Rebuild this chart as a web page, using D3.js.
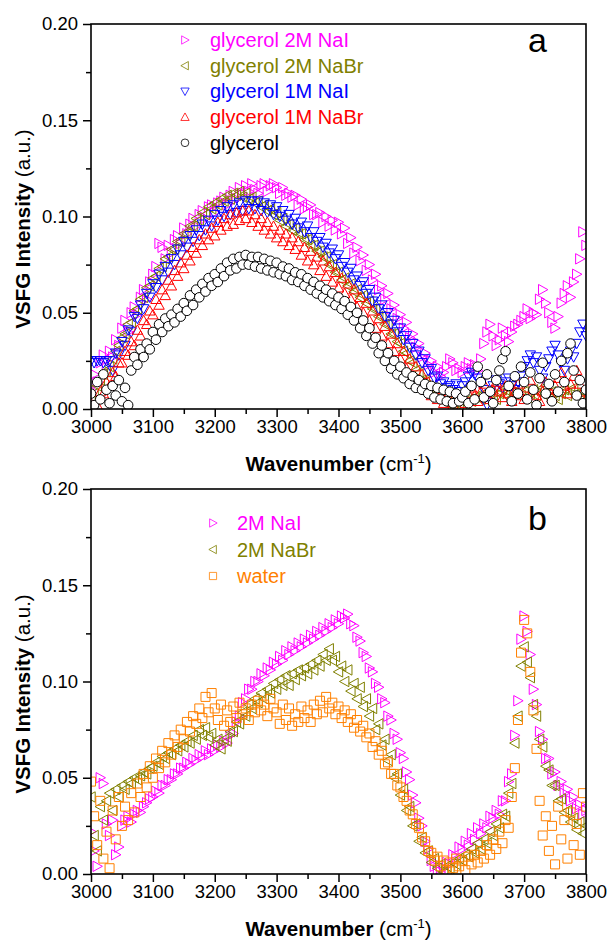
<!DOCTYPE html>
<html>
<head>
<meta charset="utf-8">
<script src="https://cdn.jsdelivr.net/npm/d3@7"></script>
<style>
  body { margin: 0; background: #fff; }
  text { font-family: "Liberation Sans", Arial, sans-serif; }
</style>
</head>
<body>
<div id="chart"></div>
<script>
// wavenumber grid (cm-1), one reading every 5 cm-1
const wavenumbers = d3.range(3000, 3801, 5);

// VSFG intensities, in units of 1e-3 a.u. (rows of 10 = 50 cm-1)
// panel a
const glycerol2MNaI = [
  10, 18, 14, 24, 28, 22, 30, 27, 36, 33,
  42, 46, 40, 50, 53, 49, 58, 62, 57, 66,
  70, 74, 86, 84, 78, 85, 81, 88, 90, 86,
  94, 91, 96, 99, 95, 101, 103, 99, 105, 106,
  102, 107, 108, 110, 106, 111, 113, 109, 115, 112,
  116, 113, 117, 114, 112, 116, 117, 113, 116, 117,
  115, 112, 115, 111, 112, 110, 111, 106, 109, 104,
  105, 106, 101, 101, 102, 97, 100, 95, 98, 93,
  97, 91, 94, 86, 89, 81, 84, 77, 80, 72,
  75, 67, 70, 62, 64, 57, 60, 52, 54, 47,
  49, 42, 45, 37, 39, 32, 34, 27, 29, 23,
  25, 19, 22, 17, 19, 22, 26, 24, 20, 21,
  19, 22, 24, 21, 23, 20, 26, 34, 40, 44,
  38, 33, 36, 42, 38, 35, 40, 43, 44, 46,
  48, 52, 47, 50, 49, 57, 62, 55, 50, 45,
  42, 48, 55, 60, 64, 58, 66, 70, 78, 92,
  85
];
const glycerol2MNaBr = [
  5, 8, 12, 15, 18, 20, 22, 26, 30, 33,
  37, 39, 44, 45, 51, 52, 57, 58, 63, 64,
  68, 69, 73, 74, 78, 79, 83, 83, 87, 87,
  91, 91, 95, 95, 99, 98, 102, 101, 105, 104,
  107, 106, 109, 108, 111, 109, 112, 111, 113, 110,
  112, 109, 110, 107, 108, 105, 106, 103, 104, 101,
  102, 98, 99, 95, 96, 93, 94, 91, 91, 88,
  88, 85, 85, 82, 82, 79, 79, 75, 75, 71,
  71, 67, 68, 64, 65, 61, 62, 58, 59, 55,
  56, 52, 52, 48, 48, 44, 44, 39, 39, 35,
  34, 30, 29, 25, 24, 20, 19, 15, 15, 11,
  11, 7, 8, 5, 6, 3, 4, 2, 3, 1,
  1, 3, 5, 4, 6, 7, 5, 8, 6, 9,
  7, 5, 8, 10, 7, 9, 6, 8, 10, 7,
  9, 6, 8, 10, 7, 9, 11, 8, 6, 9,
  7, 5, 8, 10, 7, 9, 11, 8, 6, 9,
  7
];
const glycerol1MNaI = [
  25, 24, 25, 25, 24, 25, 25, 20, 29, 28,
  35, 33, 41, 40, 48, 47, 54, 52, 60, 58,
  65, 63, 70, 67, 74, 71, 78, 75, 83, 80,
  87, 84, 90, 87, 93, 90, 96, 93, 98, 95,
  101, 98, 103, 100, 105, 101, 106, 102, 107, 103,
  108, 104, 108, 104, 108, 103, 107, 102, 106, 101,
  105, 100, 103, 98, 101, 96, 99, 94, 97, 92,
  95, 89, 92, 87, 89, 84, 86, 81, 83, 78,
  80, 74, 76, 71, 73, 67, 69, 64, 66, 60,
  62, 56, 58, 52, 54, 48, 50, 44, 46, 40,
  42, 36, 38, 32, 34, 28, 30, 24, 26, 20,
  21, 16, 17, 13, 14, 11, 12, 10, 13, 9,
  12, 14, 17, 19, 18, 16, 13, 10, 2, 8,
  12, 15, 13, 11, 14, 16, 12, 10, 14, 17,
  22, 25, 28, 24, 27, 20, 16, 22, 26, 30,
  33, 28, 24, 20, 26, 30, 27, 34, 40, 44,
  38
];
const glycerol1MNaBr = [
  3, 6, 2, 9, 8, 14, 12, 19, 17, 24,
  24, 30, 28, 35, 33, 41, 38, 46, 44, 51,
  49, 57, 54, 62, 59, 67, 64, 72, 69, 76,
  73, 80, 77, 84, 81, 88, 85, 91, 88, 94,
  90, 97, 93, 99, 95, 101, 96, 102, 98, 103,
  99, 103, 97, 101, 95, 99, 93, 97, 91, 95,
  89, 93, 87, 91, 85, 89, 83, 87, 80, 84,
  77, 82, 75, 79, 72, 77, 69, 74, 66, 71,
  63, 68, 60, 65, 57, 62, 53, 58, 50, 55,
  46, 51, 42, 47, 38, 43, 34, 39, 30, 34,
  26, 30, 21, 26, 17, 22, 13, 18, 10, 14,
  7, 10, 5, 8, 3, 6, 5, 2, 4, 6,
  6, 3, 8, 11, 7, 4, 9, 13, 8, 5,
  10, 14, 9, 6, 12, 8, 4, 9, 13, 7,
  5, 11, 15, 10, 7, 4, 9, 14, 10, 6,
  12, 16, 19, 12, 8, 13, 17, 20, 13, 9,
  5
];
const glycerolNeat = [
  8, 2, 14, 5, 18, 10, 3, 12, 7, 15,
  4, 11, 2, 20, 27, 23, 31, 27, 34, 31,
  40, 36, 44, 40, 47, 43, 49, 45, 52, 48,
  55, 51, 59, 54, 62, 58, 65, 61, 68, 64,
  70, 66, 73, 69, 76, 72, 78, 73, 79, 75,
  80, 75, 79, 74, 79, 73, 78, 72, 77, 71,
  76, 70, 74, 69, 73, 67, 71, 66, 70, 64,
  68, 62, 66, 60, 64, 58, 62, 56, 60, 54,
  58, 52, 56, 49, 53, 46, 50, 42, 46, 38,
  42, 34, 37, 29, 33, 25, 29, 21, 25, 18,
  22, 16, 19, 13, 17, 11, 15, 10, 13, 8,
  12, 6, 11, 5, 10, 4, 9, 3, 8, 4,
  6, 9, 3, 12, 5, 22, 14, 6, 18, 9,
  3, 15, 20, 26, 30, 12, 4, 17, 8, 22,
  14, 5, 19, 10, 2, 16, 24, 8, 13, 4,
  18, 9, 25, 14, 29, 34, 20, 7, 15, 3,
  10
];

// panel b
const water2MNaI = [
  22, 12, 4, 50, 47, 26, 20, 28, 10, 14,
  25, 28, 30, 27, 31, 33, 32, 35, 37, 39,
  40, 43, 42, 46, 46, 49, 49, 52, 52, 55,
  55, 58, 57, 60, 59, 62, 61, 64, 62, 65,
  64, 67, 66, 69, 68, 72, 73, 79, 82, 89,
  91, 96, 96, 100, 100, 104, 103, 107, 106, 110,
  109, 113, 111, 116, 114, 118, 116, 120, 118, 122,
  120, 124, 122, 126, 124, 128, 126, 130, 128, 132,
  130, 134, 133, 135, 130, 129, 123, 121, 115, 113,
  107, 105, 99, 97, 91, 89, 82, 80, 73, 70,
  63, 60, 53, 49, 41, 37, 29, 25, 17, 13,
  7, 4, 2, 1, 3, 6, 5, 10, 9, 14,
  13, 17, 15, 21, 18, 24, 21, 26, 24, 30,
  29, 33, 31, 38, 38, 48, 52, 72, 90, 122,
  134, 126, 114, 96, 88, 74, 70, 60, 60, 52,
  53, 46, 48, 42, 44, 38, 40, 34, 36, 31,
  33
];
const water2MNaBr = [
  40, 20, 12, 35, 28, 38, 42, 33, 44, 40,
  46, 44, 48, 47, 50, 49, 51, 53, 52, 55,
  56, 58, 57, 61, 60, 63, 62, 65, 64, 67,
  66, 69, 68, 72, 70, 75, 72, 76, 71, 73,
  67, 70, 65, 70, 69, 74, 74, 79, 78, 84,
  82, 88, 86, 91, 89, 94, 91, 96, 94, 99,
  96, 101, 98, 103, 98, 104, 101, 106, 103, 107,
  104, 109, 106, 111, 108, 114, 111, 117, 111, 113,
  105, 108, 100, 106, 95, 99, 91, 97, 87, 91,
  82, 86, 75, 78, 67, 70, 59, 62, 50, 52,
  41, 44, 33, 35, 25, 26, 17, 19, 11, 12,
  6, 8, 3, 5, 1, 4, 3, 6, 5, 8,
  7, 10, 9, 13, 11, 16, 13, 18, 16, 22,
  20, 26, 24, 31, 30, 42, 47, 68, 82, 108,
  118, 110, 102, 88, 82, 70, 66, 56, 54, 46,
  46, 38, 39, 32, 33, 27, 29, 23, 27, 21,
  25
];
const water = [
  48, 30, 15, 38, 8, 22, 3, 33, 18, 40,
  25, 35, 28, 42, 32, 47, 40, 52, 45, 56,
  50, 60, 55, 64, 58, 68, 62, 72, 66, 75,
  70, 79, 74, 82, 78, 86, 81, 92, 84, 94,
  86, 80, 88, 77, 85, 79, 87, 81, 89, 83,
  86, 80, 88, 84, 90, 85, 88, 82, 91, 86,
  84, 78, 88, 80, 86, 77, 83, 79, 87, 81,
  85, 79, 88, 83, 90, 84, 92, 86, 89, 83,
  87, 81, 85, 79, 83, 76, 80, 74, 77, 71,
  73, 66, 69, 62, 64, 57, 58, 52, 52, 46,
  45, 40, 38, 33, 31, 26, 24, 19, 17, 12,
  11, 7, 9, 4, 7, 2, 6, 3, 8, 4,
  7, 2, 9, 5, 10, 6, 12, 8, 15, 10,
  18, 13, 22, 16, 28, 24, 40, 55, 80, 115,
  132, 125, 105, 85, 65, 38, 20, 30, 12, 25,
  5, 35, 18, 28, 8, 32, 15, 26, 10, 42,
  35
];

const xTicks = d3.range(3000, 3801, 100);
const yTicks = [0, 0.05, 0.10, 0.15, 0.20];

const width = 610, height = 940;
const margin = { left: 91, right: 24 };
const plotH = 385;

const svg = d3.select("#chart").append("svg")
  .attr("width", width)
  .attr("height", height);

const x = d3.scaleLinear().domain([3000, 3800]).range([margin.left, width - margin.right]);

// marker shapes, centred on 0,0
const shapes = {
  right: "M-4.2,-5.2L5.2,0L-4.2,5.2Z",
  left: "M4.2,-5.2L-5.2,0L4.2,5.2Z",
  down: "M-5.2,-4.2L5.2,-4.2L0,5.2Z",
  up: "M-5.2,4.2L5.2,4.2L0,-5.2Z",
  circle: "M4.8,0A4.8,4.8 0 1,1 -4.8,0A4.8,4.8 0 1,1 4.8,0Z",
  square: "M-4.5,-4.5H4.5V4.5H-4.5Z"
};

const panels = [
  {
    top: 24, tag: "a", tagX: 528, tagY: 52,
    legend: { markX: 185, textX: 210, y0: 40, dy: 25.7 },
    series: [
      { name: "glycerol 2M NaI", values: glycerol2MNaI, color: "#ff00ff", shape: "right", fill: "none" },
      { name: "glycerol 2M NaBr", values: glycerol2MNaBr, color: "#808000", shape: "left", fill: "none" },
      { name: "glycerol 1M NaI", values: glycerol1MNaI, color: "#0000ff", shape: "down", fill: "none" },
      { name: "glycerol 1M NaBr", values: glycerol1MNaBr, color: "#ff0000", shape: "up", fill: "none" },
      { name: "glycerol", values: glycerolNeat, color: "#000000", shape: "circle", fill: "#fff" }
    ]
  },
  {
    top: 489, tag: "b", tagX: 528, tagY: 530,
    legend: { markX: 213, textX: 237, y0: 523, dy: 26.5 },
    series: [
      { name: "2M NaI", values: water2MNaI, color: "#ff00ff", shape: "right", fill: "none" },
      { name: "2M NaBr", values: water2MNaBr, color: "#808000", shape: "left", fill: "none" },
      { name: "water", values: water, color: "#ff8000", shape: "square", fill: "none" }
    ]
  }
];

panels.forEach((p, pi) => {
  const y = d3.scaleLinear().domain([0, 0.2]).range([p.top + plotH, p.top]);
  const g = svg.append("g");

  g.append("clipPath").attr("id", "clip" + pi)
    .append("rect")
    .attr("x", margin.left).attr("y", p.top)
    .attr("width", x.range()[1] - margin.left).attr("height", plotH);

  // data
  const dataG = g.append("g").attr("clip-path", `url(#clip${pi})`);
  p.series.forEach(s => {
    dataG.append("g")
      .selectAll("path")
      .data(s.values.map((v, i) => [wavenumbers[i], v / 1000]))
      .join("path")
      .attr("d", shapes[s.shape])
      .attr("transform", d => `translate(${x(d[0])},${y(d[1])})`)
      .attr("fill", s.fill)
      .attr("stroke", s.color)
      .attr("stroke-width", 1);
  });

  // axes
  const xAxis = d3.axisBottom(x).tickValues(xTicks).tickFormat(d3.format("d"))
    .tickSize(8).tickSizeOuter(0).tickPadding(3);
  const xMinor = d3.axisBottom(x).tickValues(d3.range(3050, 3800, 100))
    .tickFormat("").tickSize(5).tickSizeOuter(0);
  const yAxis = d3.axisLeft(y).tickValues(yTicks).tickFormat(d3.format(".2f"))
    .tickSize(8).tickSizeOuter(0).tickPadding(5);
  const yMinor = d3.axisLeft(y).tickValues([0.025, 0.075, 0.125, 0.175])
    .tickFormat("").tickSize(5).tickSizeOuter(0);

  [xAxis, xMinor].forEach(a => {
    g.append("g").attr("transform", `translate(0,${p.top + plotH})`).call(a)
      .call(s => s.select(".domain").remove());
  });
  [yAxis, yMinor].forEach(a => {
    g.append("g").attr("transform", `translate(${margin.left},0)`).call(a)
      .call(s => s.select(".domain").remove());
  });
  g.selectAll(".tick line").attr("stroke", "#000").attr("stroke-width", 1.5);
  g.selectAll(".tick text")
    .attr("fill", "#000")
    .style("font-size", "18.5px")
    .style("font-family", '"Liberation Sans", Arial, sans-serif');

  // frame
  g.append("rect")
    .attr("x", margin.left).attr("y", p.top)
    .attr("width", x.range()[1] - margin.left).attr("height", plotH)
    .attr("fill", "none").attr("stroke", "#000").attr("stroke-width", 1.6);

  // axis titles
  const xt = g.append("text")
    .attr("x", (margin.left + x.range()[1]) / 2)
    .attr("y", p.top + plotH + 62)
    .attr("text-anchor", "middle")
    .style("font-size", "20.5px");
  xt.append("tspan").attr("font-weight", "bold").text("Wavenumber");
  xt.append("tspan").text(" (cm");
  xt.append("tspan").attr("dy", -8).style("font-size", "13px").text("-1");
  xt.append("tspan").attr("dy", 8).text(")");

  const yt = g.append("text")
    .attr("transform", `translate(30,${p.top + 205}) rotate(-90)`)
    .attr("text-anchor", "middle")
    .style("font-size", "20.5px");
  yt.append("tspan").attr("font-weight", "bold").text("VSFG Intensity");
  yt.append("tspan").text(" (a.u.)");

  // panel tag
  g.append("text")
    .attr("x", p.tagX).attr("y", p.tagY)
    .style("font-size", "34px")
    .text(p.tag);

  // legend
  const lg = g.append("g");
  p.series.forEach((s, i) => {
    const ly = p.legend.y0 + i * p.legend.dy;
    lg.append("path")
      .attr("d", shapes[s.shape])
      .attr("transform", `translate(${p.legend.markX},${ly}) scale(0.8)`)
      .attr("fill", s.fill).attr("stroke", s.color).attr("stroke-width", 1);
    lg.append("text")
      .attr("x", p.legend.textX).attr("y", ly)
      .attr("dy", "0.35em")
      .attr("fill", s.color)
      .style("font-size", "20px")
      .text(s.name);
  });
});
</script>
</body>
</html>
